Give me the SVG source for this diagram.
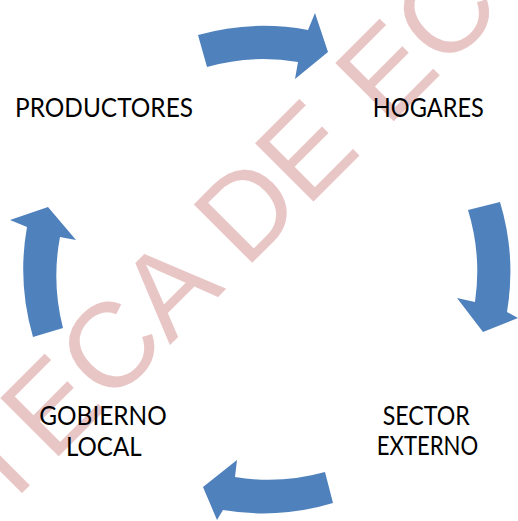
<svg xmlns="http://www.w3.org/2000/svg" width="518" height="521" viewBox="0 0 518 521">
  <style>
    .lbl { font-family: Lato, "Liberation Sans", sans-serif; font-size: 26.5px; fill: #000; text-anchor: middle; }
    .arrow { fill: #4F81BD; }
    .wm { font-family: "Liberation Sans", Arial, sans-serif; font-size: 120px; fill: #E9C6C6; }
  </style>
  <rect width="518" height="521" fill="#ffffff"/>
  <g id="watermark">
    <text class="wm" transform="translate(0,515) rotate(-45)" x="0" y="0">TECA DE ECO</text>
  </g>
  <g id="connectors">
    <path class="arrow" d="M198,35 A241,241 0 0 1 308,30 L315,13 L328,52 L295,79 L298,62 A209,209 0 0 0 207,67 Z"/>
    <path class="arrow" d="M468,210 L500,202 A241,241 0 0 1 507,312 L518,318 L483,332 L457,298 L475,302 A209,209 0 0 0 468,210 Z"/>
    <path class="arrow" d="M333,503 A241,241 0 0 1 223,510 L217,520 L203,487 L237,460 L235,477 A209,209 0 0 0 325,472 Z"/>
    <path class="arrow" d="M33,337 A241,241 0 0 1 27,227 L10,220 L48,207 L76,240 L60,237 A209,209 0 0 0 63,328 Z"/>
  </g>
  <g id="productores">
    <text class="lbl" x="104" y="116.7" textLength="178" lengthAdjust="spacingAndGlyphs">PRODUCTORES</text>
  </g>
  <g id="hogares">
    <text class="lbl" x="428.3" y="116.7" textLength="111" lengthAdjust="spacingAndGlyphs">HOGARES</text>
  </g>
  <g id="sector-externo">
    <text class="lbl" x="426.3" y="425" textLength="87" lengthAdjust="spacingAndGlyphs">SECTOR</text>
    <text class="lbl" x="427.5" y="455" textLength="101.5" lengthAdjust="spacingAndGlyphs">EXTERNO</text>
  </g>
  <g id="gobierno-local">
    <text class="lbl" x="103" y="424.5" textLength="127.4" lengthAdjust="spacingAndGlyphs">GOBIERNO</text>
    <text class="lbl" x="103.8" y="455.5" textLength="75.7" lengthAdjust="spacingAndGlyphs">LOCAL</text>
  </g>
</svg>
